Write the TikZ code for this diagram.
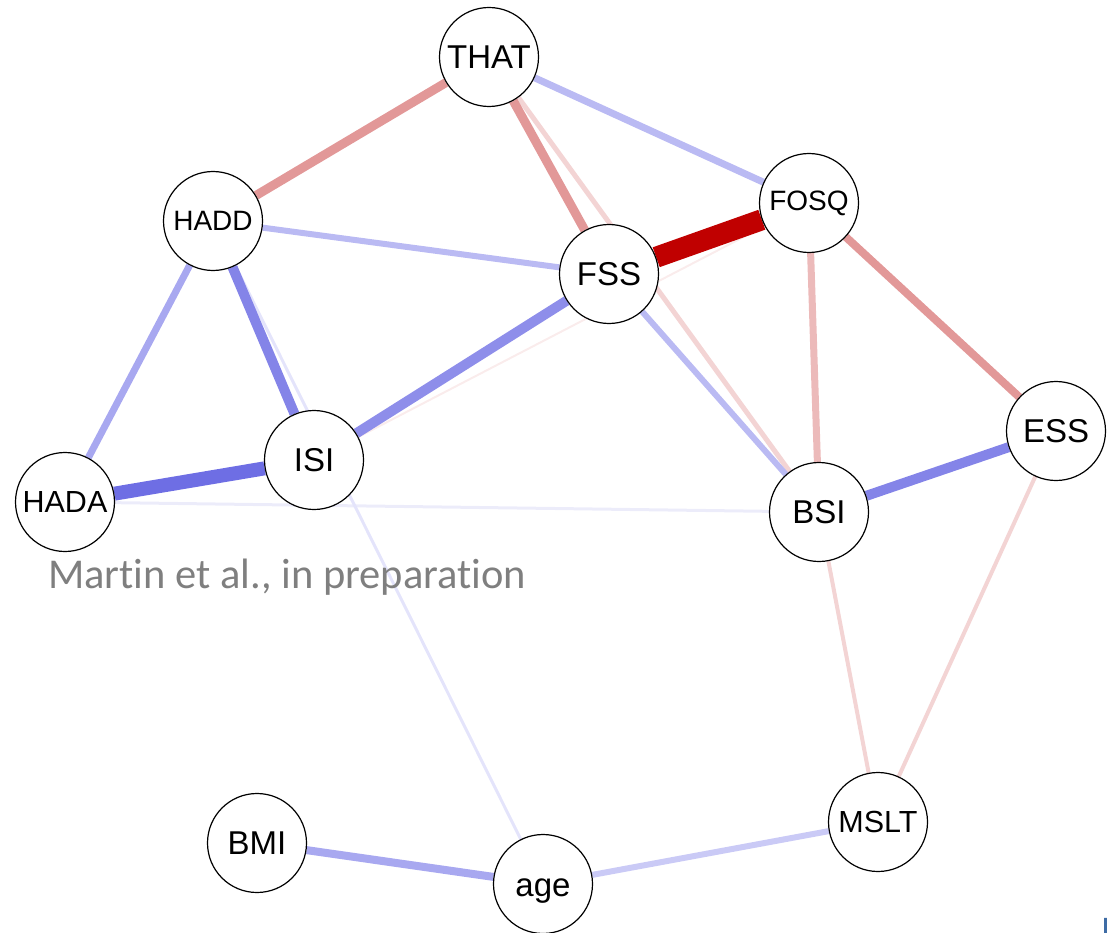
\documentclass[tikz,border=0pt]{standalone}
\usepackage{fontspec}
\setmainfont{Liberation Sans}
\newfontfamily\notefont[Ligatures=NoCommon]{Carlito}
\usetikzlibrary{backgrounds}

% edge colours: red = negative, blue = positive, paler = weaker
\definecolor{redD}{RGB}{192,0,0}
\definecolor{redM}{RGB}{226,152,152}
\definecolor{redL}{RGB}{236,186,186}
\definecolor{redF}{RGB}{243,212,212}
\definecolor{redX}{RGB}{250,236,236}
\definecolor{bluA}{RGB}{110,110,228}
\definecolor{bluB}{RGB}{132,132,232}
\definecolor{bluC}{RGB}{142,142,234}
\definecolor{bluD}{RGB}{168,168,240}
\definecolor{bluE}{RGB}{186,186,243}
\definecolor{bluF}{RGB}{202,202,246}
\definecolor{bluG}{RGB}{228,228,251}
\definecolor{bluH}{RGB}{236,236,250}
\definecolor{notegray}{RGB}{127,127,127}
\definecolor{slideblue}{RGB}{62,108,165}

\tikzset{
  vnode/.style={circle, draw=black, line width=1.2pt, fill=white,
    minimum size=99pt, inner sep=0pt, font=\fontsize{33}{33}\selectfont},
  smalltext/.style={font=\fontsize{28}{28}\selectfont},
  midtext/.style={font=\fontsize{30.5}{30.5}\selectfont},
  link/.style={line cap=butt}
}

\begin{document}
\begin{tikzpicture}[x=1pt,y=-1pt]
\useasboundingbox (0,0) rectangle (1107,933);
\clip (0,0) rectangle (1107,933);

% variables
\node[vnode] (THAT) at (489,57) {THAT};
\node[vnode,smalltext] (HADD) at (213,221) {HADD};
\node[vnode,smalltext] (FOSQ) at (809,203) {FOSQ};
\node[vnode] (FSS) at (609,274) {FSS};
\node[vnode] (ISI) at (314,460) {ISI};
\node[vnode,midtext] (HADA) at (65,502) {HADA};
\node[vnode] (ESS) at (1056,431) {ESS};
\node[vnode] (BSI) at (819,512) {BSI};
\node[vnode,midtext] (MSLT) at (878,822) {MSLT};
\node[vnode] (BMI) at (257,843) {BMI};
\node[vnode, text height=24pt, text depth=0pt] (age) at (543,884) {age};

% edges, weakest first
\begin{scope}[on background layer, link]
  \draw[redX, line width=2pt] (ISI) -- (FOSQ);
  \draw[bluH, line width=3pt] (HADA) -- (BSI);
  \draw[bluG, line width=3pt] (HADD) -- (age);
  \draw[redF, line width=4pt] (BSI) -- (MSLT);
  \draw[redF, line width=4pt] (ESS) -- (MSLT);
  \draw[redF, line width=5pt] (THAT) -- (BSI);
  \draw[bluF, line width=6pt] (age) -- (MSLT);
  \draw[bluE, line width=6pt] (HADD) -- (FSS);
  \draw[bluE, line width=6pt] (FSS) -- (BSI);
  \draw[bluE, line width=7pt] (THAT) -- (FOSQ);
  \draw[redL, line width=7pt] (FOSQ) -- (BSI);
  \draw[bluD, line width=7pt] (HADD) -- (HADA);
  \draw[bluD, line width=8pt] (BMI) -- (age);
  \draw[redM, line width=8pt] (FOSQ) -- (ESS);
  \draw[redM, line width=9pt] (THAT) -- (HADD);
  \draw[redM, line width=9pt] (THAT) -- (FSS);
  \draw[bluB, line width=10pt] (HADD) -- (ISI);
  \draw[bluC, line width=10pt] (FSS) -- (ISI);
  \draw[bluB, line width=10pt] (ESS) -- (BSI);
  \draw[bluA, line width=14pt] (HADA) -- (ISI);
  \draw[redD, line width=21pt] (FSS) -- (FOSQ);
\end{scope}

% source note
\node[anchor=base west, inner sep=0pt, text=notegray,
  font=\notefont\fontsize{42.5}{42.5}\selectfont] (note) at (48,588)
  {Martin et al., in preparation};

% corner of the neighbouring slide element
\draw[slideblue, line width=3pt] (1105.5,940) -- (1105.5,918)
  arc[start angle=180, end angle=120, radius=10];
\end{tikzpicture}
\end{document}
